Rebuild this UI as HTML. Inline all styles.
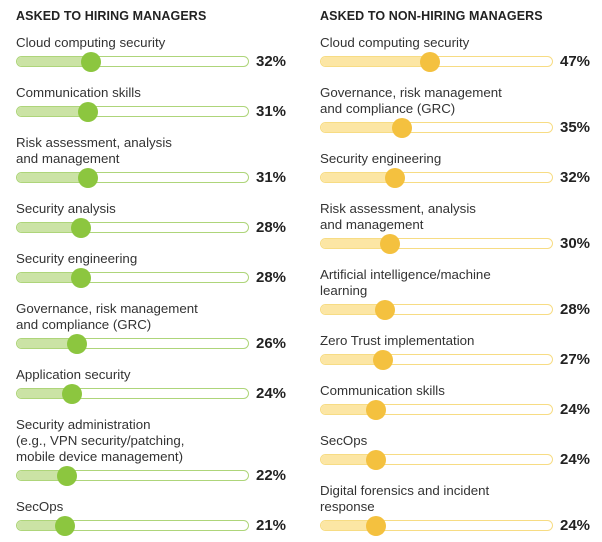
<!DOCTYPE html>
<html><head><meta charset="utf-8"><style>
body{margin:0;width:602px;height:542px;background:#fff;font-family:"Liberation Sans",sans-serif;position:relative;overflow:hidden}
.t{position:absolute;font-weight:bold;font-size:12.5px;color:#222;top:9px;letter-spacing:0.1px}
.lab{position:absolute;font-size:13.3px;color:#333;line-height:16px;white-space:nowrap}
.track{position:absolute;height:11px;border-radius:6px;background:#fff;box-sizing:border-box}
.fill{position:absolute;left:0;top:0;bottom:0;border-radius:6px 0 0 6px}
.dot{position:absolute;width:20px;height:20px;border-radius:50%}
.pct{position:absolute;font-weight:bold;font-size:15px;color:#222}
</style></head><body>
<div class="t" style="left:16px">ASKED TO HIRING MANAGERS</div>
<div class="t" style="left:320px">ASKED TO NON-HIRING MANAGERS</div>
<script>
const leftLabels=[["Cloud computing security"],["Communication skills"],["Risk assessment, analysis","and management"],["Security analysis"],["Security engineering"],["Governance, risk management","and compliance (GRC)"],["Application security"],["Security administration","(e.g., VPN security/patching,","mobile device management)"],["SecOps"]];
const leftValues=[32,31,31,28,28,26,24,22,21];
const rightLabels=[["Cloud computing security"],["Governance, risk management","and compliance (GRC)"],["Security engineering"],["Risk assessment, analysis","and management"],["Artificial intelligence/machine","learning"],["Zero Trust implementation"],["Communication skills"],["SecOps"],["Digital forensics and incident","response"]];
const rightValues=[47,35,32,30,28,27,24,24,24];
function panel(labels,values,x0,col,side){
  const W=233;let prev=12;
  labels.forEach((lines,i)=>{
    const by=prev+34+16*lines.length;prev=by;
    const lab=document.createElement('div');lab.className='lab';
    
    
    lab.style.left=x0+'px';lab.style.top=(by-11-16*lines.length)+'px';
    lab.innerHTML=lines.join('<br>');document.body.appendChild(lab);
    const tr=document.createElement('div');tr.className='track';
    
    
    tr.style.cssText+=`left:${x0}px;top:${by-6}px;width:${W}px;border:1.5px solid ${col.b}`;
    const f=document.createElement('div');f.className='fill';
    
    
    const px=values[i]/100*W;
    f.style.width=px+'px';f.style.background=col.f;tr.appendChild(f);
    document.body.appendChild(tr);
    const d=document.createElement('div');d.className='dot';
    
    
    d.style.left=(x0+px-10)+'px';d.style.top=(by-10)+'px';d.style.background=col.d;
    document.body.appendChild(d);
    const p=document.createElement('div');p.className='pct';
    
    
    p.style.left=(x0+W+7)+'px';p.style.top=(by-9)+'px';p.textContent=values[i]+'%';
    document.body.appendChild(p);
  });
}
panel(leftLabels,leftValues,16,{b:'#aed57a',f:'#cbe3a5',d:'#8cc63f'},'hiring');
panel(rightLabels,rightValues,320,{b:'#f7dc84',f:'#fce6a4',d:'#f4c13f'},'nonhiring');
</script>
</body></html>
